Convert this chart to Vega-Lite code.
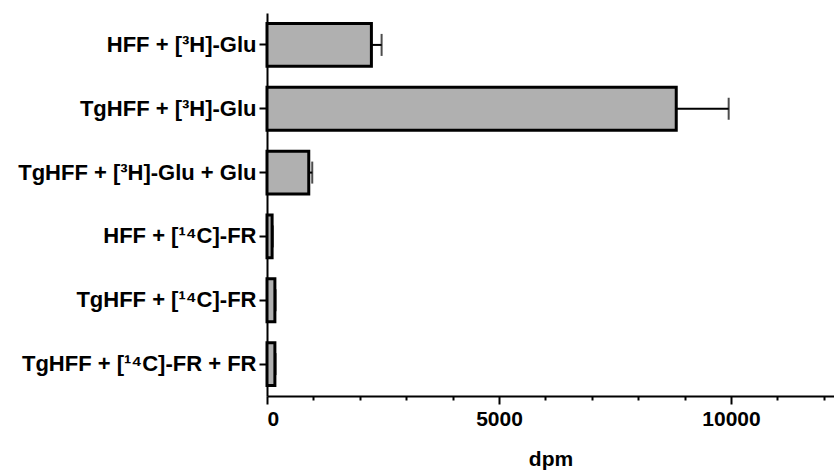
{
  "$schema": "https://vega.github.io/schema/vega-lite/v6.json",
  "autosize": "none",
  "padding": {"left": 267, "top": 13, "right": 0, "bottom": 76},
  "width": 567,
  "height": 383,
  "background": "white",
  "config": {
    "view": {"stroke": null},
    "font": "Liberation Sans"
  },
  "data": {
    "values": [
      {"group": "HFF + [³H]-Glu", "dpm": 2250, "hi": 2470},
      {"group": "TgHFF + [³H]-Glu", "dpm": 8820, "hi": 9950},
      {"group": "TgHFF + [³H]-Glu + Glu", "dpm": 900, "hi": 975},
      {"group": "HFF + [¹⁴C]-FR", "dpm": 110, "hi": 125},
      {"group": "TgHFF + [¹⁴C]-FR", "dpm": 170, "hi": 185},
      {"group": "TgHFF + [¹⁴C]-FR + FR", "dpm": 170, "hi": 185}
    ]
  },
  "encoding": {
    "y": {
      "field": "group", "type": "nominal", "sort": null,
      "scale": {"paddingInner": 0.33, "paddingOuter": 0.165},
      "axis": {
        "title": null, "domainColor": "black", "domainWidth": 2,
        "tickColor": "black", "tickWidth": 2, "tickSize": 8,
        "labelFont": "Liberation Sans", "labelFontSize": 22, "labelFontWeight": "bold",
        "labelColor": "black", "labelPadding": 3, "labelLimit": 400
      }
    }
  },
  "layer": [
    {
      "mark": {"type": "bar", "fill": "#b0b0b0", "stroke": "black", "strokeWidth": 3},
      "encoding": {
        "x": {
          "field": "dpm", "type": "quantitative",
          "scale": {"domain": [0, 12220], "nice": false, "zero": true},
          "axis": {
            "orient": "bottom", "format": "d",
            "title": "dpm", "titleFont": "Liberation Sans", "titleFontSize": 21, "titleFontWeight": "bold",
            "titleColor": "black", "titlePadding": 19,
            "values": [0, 5000, 10000], "grid": false,
            "domainColor": "black", "domainWidth": 2,
            "tickColor": "black", "tickWidth": 2, "tickSize": 8,
            "labelFont": "Liberation Sans", "labelFontSize": 21, "labelFontWeight": "bold",
            "labelColor": "black", "labelPadding": 4
          }
        }
      }
    },
    {
      "mark": {"type": "rule", "stroke": "black", "strokeWidth": 2},
      "encoding": {
        "x": {"field": "dpm", "type": "quantitative", "axis": null},
        "x2": {"field": "hi"}
      }
    },
    {
      "mark": {"type": "tick", "color": "black", "size": 22, "thickness": 2, "orient": "vertical"},
      "encoding": {
        "x": {
          "field": "hi", "type": "quantitative",
          "axis": {
            "orient": "bottom", "title": null, "labels": false, "domain": false, "grid": false,
            "values": [1000, 2000, 3000, 4000, 6000, 7000, 8000, 9000, 11000, 12000],
            "tickColor": "black", "tickWidth": 2, "tickSize": 4
          }
        }
      }
    }
  ],
  "resolve": {"axis": {"x": "independent"}}
}
